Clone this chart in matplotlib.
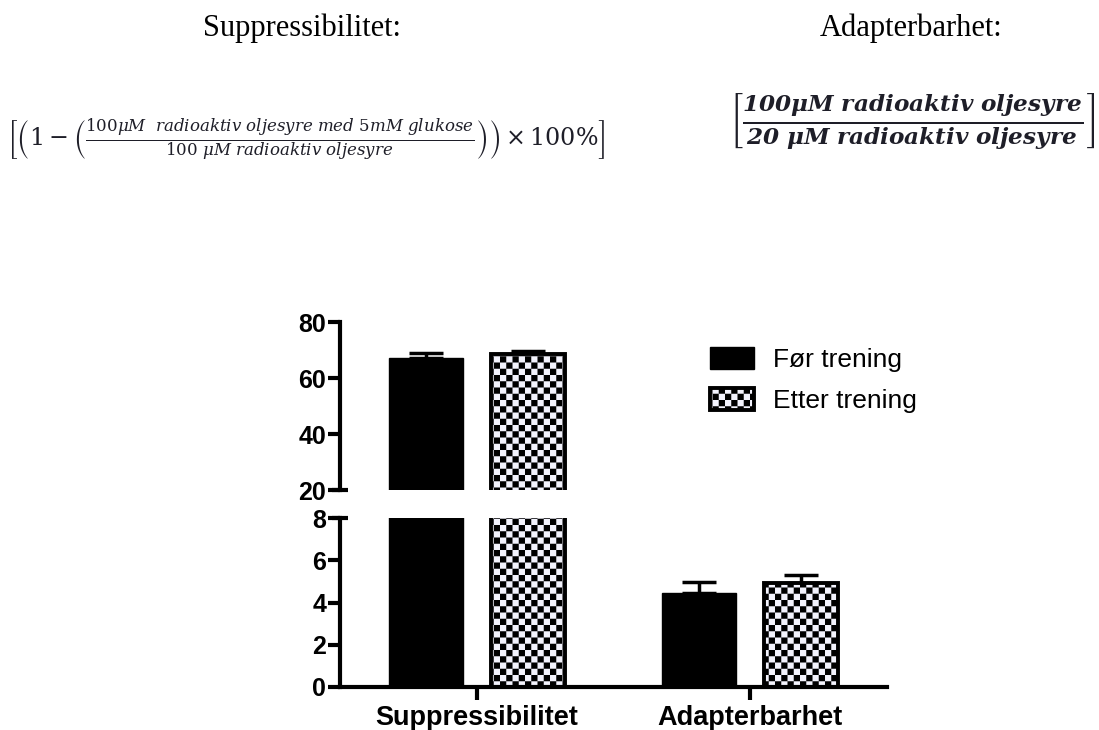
import warnings

import numpy as np
import matplotlib
matplotlib.use("Agg")
import matplotlib.pyplot as plt
import matplotlib.hatch as mhatch
from matplotlib.path import Path

warnings.filterwarnings("ignore")

# ----------------------------------
# Data
# ----------------------------------

categories = ["Suppressibilitet", "Adapterbarhet"]

for_vals = [67.0, 4.44]
for_err = [1.9, 0.55]

etter_vals = [68.5, 4.90]
etter_err = [1.3, 0.42]

series_labels = ["Før trening", "Etter trening"]

upper_ticks = [20, 40, 60, 80]
lower_ticks = [0, 2, 4, 6, 8]

title_left = "Suppressibilitet:"
title_right = "Adapterbarhet:"

formula_left = (r"$\left[\left(1-\left(\frac{100\mu M\ \ radioaktiv\ oljesyre\ med\ 5mM\ glukose}"
                r"{100\ \mu M\ radioaktiv\ oljesyre}\right)\right)\times100\%\right]$")
formula_right = (r"$\left[\frac{\mathbfit{100\mu M\ radioaktiv\ oljesyre}}"
                 r"{\mathbfit{20\ \mu M\ radioaktiv\ oljesyre}}\right]$")


# ----------------------------------
# Checkerboard hatch (not in matplotlib)
# ----------------------------------

class CheckerHatch(mhatch.HatchPatternBase):
    filled = True

    def __init__(self, hatch, density):
        self.n = 16
        self.num_vertices = (self.n * self.n // 2) * 5 if "c" in hatch else 0

    def set_vertices_and_codes(self, vertices, codes):
        s = 1.0 / self.n
        k = 0
        for i in range(self.n):
            for j in range(self.n):
                if (i + j) % 2:
                    continue
                x0, y0 = i * s, j * s
                vertices[k:k + 5] = [(x0, y0), (x0 + s, y0), (x0 + s, y0 + s),
                                     (x0, y0 + s), (x0, y0)]
                codes[k:k + 5] = [Path.MOVETO, Path.LINETO, Path.LINETO,
                                  Path.LINETO, Path.CLOSEPOLY]
                k += 5


mhatch._hatch_types.append(CheckerHatch)

plt.rcParams["font.family"] = ["Liberation Sans", "DejaVu Sans"]
plt.rcParams["mathtext.fontset"] = "dejavuserif"
plt.rcParams["hatch.linewidth"] = 0.01

W, H = 1099, 730
fig = plt.figure(figsize=(W / 100, H / 100), dpi=100)


def fig_box(x0, y0, x1, y1):
    # pixel box (top-left origin) -> figure fraction rect
    return [x0 / W, 1 - y1 / H, (x1 - x0) / W, (y1 - y0) / H]


ax_up = fig.add_axes(fig_box(340, 322, 887, 490))
ax_lo = fig.add_axes(fig_box(340, 518, 887, 687))

x = np.arange(len(categories))
width = 0.27
offset = 0.187

for ax in (ax_up, ax_lo):
    b1 = ax.bar(x - offset, for_vals, width, color="black", edgecolor="black",
                linewidth=1, label=series_labels[0], zorder=2)
    b2 = ax.bar(x + offset, etter_vals, width, color="#f3f3fd", edgecolor="black",
                linewidth=2.8, hatch="c", label=series_labels[1], zorder=2)
    ax.errorbar(x - offset, for_vals, yerr=[np.zeros(len(x)), for_err], fmt="none",
                ecolor="black", elinewidth=2.5, capsize=12.5, capthick=2.5, zorder=1)
    ax.errorbar(x + offset, etter_vals, yerr=[np.zeros(len(x)), etter_err], fmt="none",
                ecolor="black", elinewidth=2.5, capsize=12.5, capthick=2.5, zorder=1)
    ax.set_xlim(-0.5, 1.5)
    for side in ("top", "right"):
        ax.spines[side].set_visible(False)
    ax.spines["left"].set_linewidth(3)
    ax.spines["bottom"].set_linewidth(3)
    ax.tick_params(axis="both", direction="out", length=9, width=3,
                   labelsize=18, pad=1)

ax_up.set_ylim(20, 80)
ax_up.set_yticks(upper_ticks)
ax_up.spines["bottom"].set_visible(False)
ax_up.set_xticks([])

ax_lo.set_ylim(0, 8)
ax_lo.set_yticks(lower_ticks)
ax_lo.set_xticks(x)
ax_lo.set_xticklabels(categories, fontsize=19.5, fontweight="bold")
ax_lo.tick_params(axis="x", pad=4)

for ax in (ax_up, ax_lo):
    for lab in ax.get_yticklabels():
        lab.set_fontweight("bold")

# break marks: short stubs to the right of the spine ends
ax_up.plot([0], [0], marker="_", ms=12, mew=3, color="black",
           transform=ax_up.transAxes, clip_on=False)
ax_lo.plot([0], [1], marker="_", ms=12, mew=3, color="black",
           transform=ax_lo.transAxes, clip_on=False)

fig.legend(handles=[b1, b2], labels=series_labels, loc="upper left",
           bbox_to_anchor=(710 / W, 1 - 347 / H), frameon=False, fontsize=19,
           borderpad=0, borderaxespad=0, handlelength=1.65, handleheight=0.9,
           handletextpad=0.72, labelspacing=0.62)

# ----------------------------------
# Header text
# ----------------------------------

fig.text(302 / W, 1 - 28 / H, title_left, ha="center", va="center",
         fontsize=22, family="Liberation Serif")
fig.text(911 / W, 1 - 28 / H, title_right, ha="center", va="center",
         fontsize=22, family="Liberation Serif")

t_left = fig.text(306 / W, 1 - 140 / H, formula_left, ha="center", va="center",
                  fontsize=10, color="#1e1e28")
t_right = fig.text(912 / W, 1 - 122 / H, formula_right, ha="center", va="center",
                   fontsize=14, color="#1e1e28")

renderer = fig.canvas.get_renderer()
for t, target in ((t_left, 597), (t_right, 365)):
    for _ in range(2):
        w = t.get_window_extent(renderer).width
        t.set_fontsize(t.get_fontsize() * target / w)

fig.savefig("out.png", dpi=100)
